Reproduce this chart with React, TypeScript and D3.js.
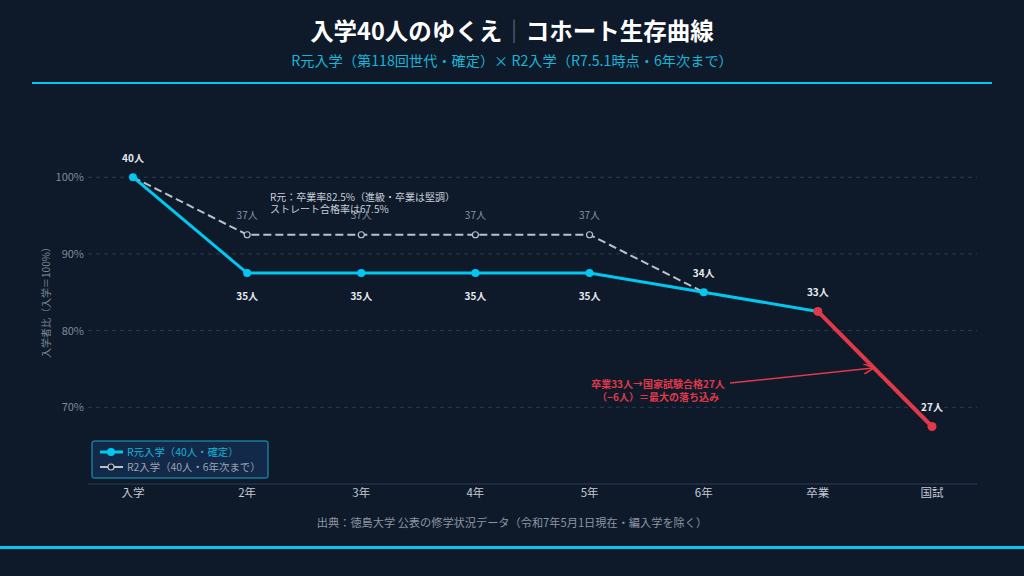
import React, { useEffect, useRef } from 'react';
import * as d3 from 'd3';

const stages = ['入学', '2年', '3年', '4年', '5年', '6年', '卒業', '国試'];
const r1Rate = [100, 87.5, 87.5, 87.5, 87.5, 85, 82.5, 67.5];
const r1Count = [40, 35, 35, 35, 35, 34, 33, 27];
const r2Rate = [100, 92.5, 92.5, 92.5, 92.5, 85];
const r2Count = [40, 37, 37, 37, 37, 34];
const yTicks = [70, 80, 90, 100];
// label placement for R元 counts: true = above the point
const r1Above = [true, false, false, false, false, true, true, true];

const BG = '#0e1a2a';
const CYAN = '#00c8f0';
const RED = '#e0394a';
const GRAY = '#b9c1cc';
const FONT = '"Noto Sans CJK JP", "Noto Sans", sans-serif';

export default function App() {
  const svgRef = useRef<SVGSVGElement>(null);

  useEffect(() => {
    const svg = d3.select(svgRef.current);
    svg.selectAll('*').remove();
    const width = 1024;
    const height = 576;

    svg.append('rect').attr('width', width).attr('height', height).attr('fill', BG);

    // faint background grid
    const pat = svg.append('defs').append('pattern').attr('id', 'bggrid')
      .attr('width', 24).attr('height', 24).attr('patternUnits', 'userSpaceOnUse');
    pat.append('path').attr('d', 'M24 0 L0 0 0 24').attr('fill', 'none')
      .attr('stroke', '#ffffff').attr('stroke-opacity', 0.012).attr('stroke-width', 1)
      .attr('stroke-dasharray', '2,2');
    svg.append('rect').attr('width', width).attr('height', height).attr('fill', 'url(#bggrid)');

    // Title block
    const title = svg.append('text').attr('x', 512).attr('y', 40).attr('text-anchor', 'middle')
      .attr('fill', '#ffffff').attr('font-size', 23.5).attr('font-weight', 700)
      .attr('font-family', FONT);
    title.append('tspan').text('入学40人のゆくえ');
    title.append('tspan').attr('fill', '#6f7c8e').attr('font-weight', 300).text('｜');
    title.append('tspan').text('コホート生存曲線');
    svg.append('text').attr('x', 512).attr('y', 66).attr('text-anchor', 'middle')
      .attr('fill', '#1ab4d6').attr('font-size', 14.2)
      .attr('font-family', FONT).text('R元入学（第118回世代・確定）× R2入学（R7.5.1時点・6年次まで）');
    svg.append('line').attr('x1', 32).attr('x2', 992).attr('y1', 83).attr('y2', 83)
      .attr('stroke', CYAN).attr('stroke-width', 2);

    const x = d3.scalePoint<string>().domain(stages).range([133, 932]);
    const y = d3.scaleLinear().domain([60, 110]).range([484, 100.5]);

    // Grid
    for (const t of yTicks) {
      svg.append('line').attr('x1', 88).attr('x2', 977).attr('y1', y(t)).attr('y2', y(t))
        .attr('stroke', '#2a3a50').attr('stroke-dasharray', '4,4');
      svg.append('text').attr('x', 84).attr('y', y(t) + 4).attr('text-anchor', 'end')
        .attr('fill', '#7d8899').attr('font-size', 11).attr('font-family', FONT).text(`${t}%`);
    }
    svg.append('line').attr('x1', 88).attr('x2', 977).attr('y1', 484).attr('y2', 484)
      .attr('stroke', '#2a3d58').attr('stroke-width', 1);
    stages.forEach((s) => {
      svg.append('text').attr('x', x(s)!).attr('y', 497).attr('text-anchor', 'middle')
        .attr('fill', '#c2c8d2').attr('font-size', 11.5).attr('font-family', FONT).text(s);
    });

    svg.append('text').attr('transform', `translate(50,300) rotate(-90)`)
      .attr('text-anchor', 'middle').attr('fill', '#7d8899').attr('font-size', 10)
      .attr('font-family', FONT).text('入学者比（入学＝100%）');

    // R2 dashed series
    const line = d3.line<number>().x((_, i) => x(stages[i])!).y((d) => y(d));
    svg.append('path').datum(r2Rate).attr('d', line).attr('fill', 'none')
      .attr('stroke', GRAY).attr('stroke-width', 2).attr('stroke-dasharray', '8,4');
    r2Rate.forEach((v, i) => {
      if (i === 0 || i === r2Rate.length - 1) return;
      svg.append('circle').attr('cx', x(stages[i])!).attr('cy', y(v)).attr('r', 3)
        .attr('fill', BG).attr('stroke', GRAY).attr('stroke-width', 1.2);
      svg.append('text').attr('x', x(stages[i])!).attr('y', y(v) - 16).attr('text-anchor', 'middle')
        .attr('fill', '#8a93a2').attr('font-size', 10).attr('font-family', FONT).text(`${r2Count[i]}人`);
    });

    // R元 series: cyan through 卒業, red for 卒業→国試
    const cyanPart = r1Rate.slice(0, 7);
    svg.append('path').datum(cyanPart).attr('d', line).attr('fill', 'none')
      .attr('stroke', CYAN).attr('stroke-width', 3);
    const redLine = d3.line<number>().x((_, i) => x(stages[i + 6])!).y((d) => y(d));
    svg.append('path').datum(r1Rate.slice(6)).attr('d', redLine).attr('fill', 'none')
      .attr('stroke', RED).attr('stroke-width', 4);
    r1Rate.forEach((v, i) => {
      svg.append('circle').attr('cx', x(stages[i])!).attr('cy', y(v)).attr('r', i >= 6 ? 4.5 : 4)
        .attr('fill', i >= 6 ? RED : CYAN);
      svg.append('text').attr('x', x(stages[i])!).attr('y', r1Above[i] ? y(v) - 15 : y(v) + 27)
        .attr('text-anchor', 'middle').attr('fill', '#e6e9ee').attr('font-size', 10)
        .attr('font-weight', 700).attr('font-family', FONT).text(`${r1Count[i]}人`);
    });

    // Note
    svg.append('text').attr('x', 270).attr('y', 201).attr('fill', '#c8ced8').attr('font-size', 10)
      .attr('font-family', FONT).text('R元：卒業率82.5%（進級・卒業は堅調）');
    svg.append('text').attr('x', 270).attr('y', 213).attr('fill', '#c8ced8').attr('font-size', 10)
      .attr('font-family', FONT).text('ストレート合格率は67.5%');

    // Drop annotation
    svg.append('defs').append('marker').attr('id', 'arr').attr('viewBox', '0 0 10 10')
      .attr('refX', 9).attr('refY', 5).attr('markerWidth', 7).attr('markerHeight', 7)
      .attr('orient', 'auto').append('path').attr('d', 'M0,0 L10,5 L0,10').attr('fill', 'none')
      .attr('stroke', RED).attr('stroke-width', 1.5);
    svg.append('line').attr('x1', 730).attr('y1', 383).attr('x2', 873).attr('y2', 368)
      .attr('stroke', RED).attr('stroke-width', 1.5).attr('marker-end', 'url(#arr)');
    svg.append('text').attr('x', 658).attr('y', 388).attr('text-anchor', 'middle').attr('fill', RED)
      .attr('font-size', 10).attr('font-weight', 700).attr('font-family', FONT).text('卒業33人→国家試験合格27人');
    svg.append('text').attr('x', 658).attr('y', 401).attr('text-anchor', 'middle').attr('fill', RED)
      .attr('font-size', 10).attr('font-weight', 700).attr('font-family', FONT).text('（−6人）＝最大の落ち込み');

    // Legend
    const lg = svg.append('g').attr('transform', 'translate(92,441)');
    lg.append('rect').attr('width', 176).attr('height', 37).attr('rx', 2)
      .attr('fill', '#13294a').attr('stroke', '#1aa6c8').attr('stroke-width', 1);
    lg.append('line').attr('x1', 8).attr('x2', 31).attr('y1', 11).attr('y2', 11)
      .attr('stroke', CYAN).attr('stroke-width', 3);
    lg.append('circle').attr('cx', 19).attr('cy', 11).attr('r', 4).attr('fill', CYAN);
    lg.append('text').attr('x', 35).attr('y', 15).attr('fill', '#16b2d6').attr('font-size', 10.4)
      .attr('font-family', FONT).text('R元入学（40人・確定）');
    lg.append('line').attr('x1', 8).attr('x2', 31).attr('y1', 26).attr('y2', 26)
      .attr('stroke', GRAY).attr('stroke-width', 2);
    lg.append('circle').attr('cx', 19).attr('cy', 26).attr('r', 3).attr('fill', BG)
      .attr('stroke', GRAY).attr('stroke-width', 1.2);
    lg.append('text').attr('x', 35).attr('y', 30).attr('fill', '#9aa3b0').attr('font-size', 10.4)
      .attr('font-family', FONT).text('R2入学（40人・6年次まで）');

    // Footer
    svg.append('text').attr('x', 512).attr('y', 527).attr('text-anchor', 'middle')
      .attr('fill', '#8c95a3').attr('font-size', 11.2).attr('font-family', FONT)
      .text('出典：徳島大学 公表の修学状況データ（令和7年5月1日現在・編入学を除く）');
    svg.append('line').attr('x1', 0).attr('x2', width).attr('y1', 547.5).attr('y2', 547.5)
      .attr('stroke', CYAN).attr('stroke-width', 3);
  }, []);

  return (
    <svg ref={svgRef} width={1024} height={576}
      style={{ position: 'fixed', left: 0, top: 0, display: 'block' }} />
  );
}
